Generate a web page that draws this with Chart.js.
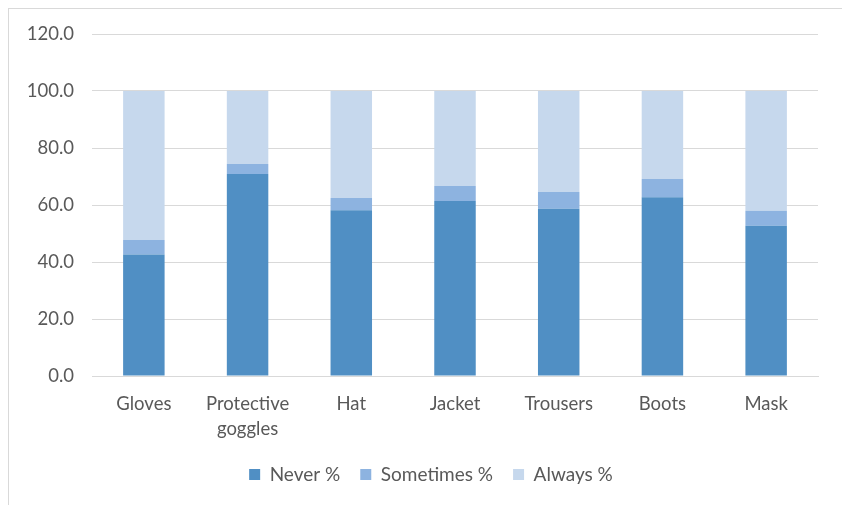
<!DOCTYPE html>
<html>
<head>
<meta charset="utf-8">
<script src="https://cdn.jsdelivr.net/npm/chart.js@4/dist/chart.umd.min.js"></script>
<style>
html,body{margin:0;padding:0;background:#fff;}
#wrap{position:absolute;left:0;top:0;width:842px;height:505px;}
</style>
</head>
<body>
<div id="wrap"><canvas id="c" width="842" height="505"></canvas></div>
<script>
const categories = ['Gloves', ['Protective', 'goggles'], 'Hat', 'Jacket', 'Trousers', 'Boots', 'Mask'];
const seriesNames = ['Never %', 'Sometimes %', 'Always %'];
const neverPct = [42.6, 70.9, 58.2, 61.4, 58.7, 62.7, 52.7];
const sometimesPct = [5.1, 3.5, 4.3, 5.3, 5.9, 6.4, 5.3];
const alwaysPct = [52.3, 25.6, 37.5, 33.3, 35.4, 30.9, 42.0];
const yTicks = [0, 20, 40, 60, 80, 100, 120];

const colors = ['#508fc4', '#8db3e0', '#c6d8ed'];
const textColor = '#595959';
const fontFamily = 'Lato, "Open Sans", sans-serif';

const borderPlugin = {
  id: 'outerBorder',
  beforeDraw(chart) {
    const ctx = chart.ctx;
    ctx.save();
    ctx.strokeStyle = '#d9d9d9';
    ctx.lineWidth = 1;
    ctx.strokeRect(8.5, 8.5, 900, 900);
    ctx.restore();
  },
  afterLayout(chart) {
    const lg = chart.legend;
    if (lg) { lg.left += 22; lg.right += 22; }
  }
};

new Chart(document.getElementById('c'), {
  type: 'bar',
  data: {
    labels: categories,
    datasets: [
      { label: seriesNames[0], data: neverPct, backgroundColor: colors[0] },
      { label: seriesNames[1], data: sometimesPct, backgroundColor: colors[1] },
      { label: seriesNames[2], data: alwaysPct, backgroundColor: colors[2] }
    ]
  },
  options: {
    responsive: false,
    animation: false,
    layout: { padding: { top: 34, right: 24, bottom: 11, left: 0 } },
    datasets: { bar: { barPercentage: 0.4, categoryPercentage: 1.0 } },
    plugins: {
      tooltip: { enabled: false },
      legend: {
        position: 'bottom',
        labels: {
          boxWidth: 11, boxHeight: 11, padding: 20,
          color: textColor,
          font: { family: fontFamily, size: 19 }
        }
      }
    },
    scales: {
      x: {
        stacked: true,
        grid: { display: false, drawTicks: false },
        border: { display: true, color: '#d9d9d9', width: 1 },
        ticks: {
          color: textColor, padding: 16, maxRotation: 0, autoSkip: false,
          font: { family: fontFamily, size: 18.5, lineHeight: 1.33 }
        },
        afterFit(scale) { scale.height = 69; }
      },
      y: {
        stacked: true,
        min: 0, max: 120,
        afterBuildTicks(scale) { scale.ticks = yTicks.map(v => ({ value: v })); },
        grid: { color: '#d9d9d9', drawTicks: false },
        border: { display: false },
        ticks: {
          color: textColor, padding: 18,
          font: { family: fontFamily, size: 18.5 },
          callback: v => Number(v).toFixed(1)
        },
        afterFit(scale) { scale.width = 92; }
      }
    }
  },
  plugins: [borderPlugin]
});
</script>
</body>
</html>
